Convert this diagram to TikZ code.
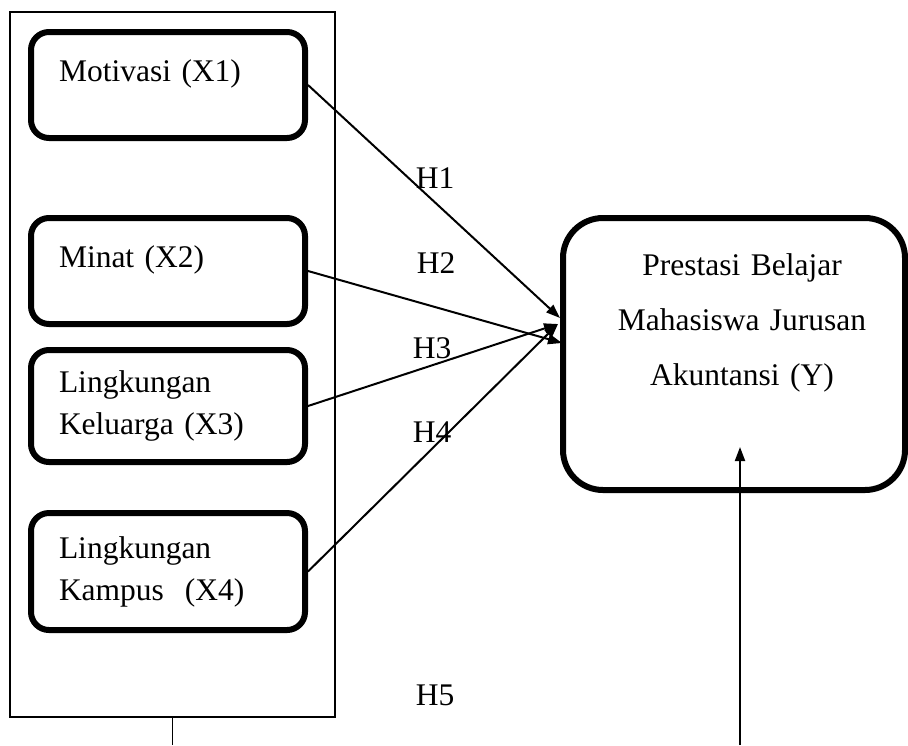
\documentclass[tikz,border=0pt]{standalone}
\usepackage{fontspec}
\setmainfont{Liberation Serif}
\usetikzlibrary{positioning}
\usetikzlibrary{arrows.meta}

\begin{document}
\begin{tikzpicture}[
x=0.5pt, y=-0.5pt,
every node/.style={font=\fontsize{15.75}{21}\selectfont},
varbox/.style={rectangle, draw=black, rounded corners=9pt, line width=3pt, minimum width=137pt, text width=109pt, inner xsep=14pt, align=left},
onebox/.style={varbox, minimum height=53pt, text depth=14pt},
twobox/.style={varbox},
ybox/.style={rectangle, draw=black, rounded corners=20pt, line width=3pt, minimum width=171pt, minimum height=136pt, text width=150pt, align=center, font=\fontsize{15.75}{27.5}\selectfont, text depth=89.5pt},
frame/.style={rectangle, draw=black, line width=0.6pt, minimum width=162.5pt, minimum height=352.5pt},
hyp/.style={inner sep=0pt},
arr/.style={-{Triangle[length=7pt,width=5pt]}, line width=1pt},
]
\useasboundingbox (0,0) rectangle (908,745);

%Nodes
\node[frame]                  (grp)  at (172.5,364.5)  {};
\node[onebox]                 (x1)   at (168,85)       {Motivasi (X1)};
\node[onebox]                 (x2)   [below=37pt of x1] {Minat (X2)};
\node[twobox, minimum height=56pt]   (x3) [below=10pt of x2] {Lingkungan\\Keluarga (X3)};
\node[twobox, minimum height=58.5pt] (x4) [below=22.5pt of x3] {Lingkungan\\Kampus~~(X4)};
\node[ybox]                   (y)    at (734,354)      {\hspace*{8pt}Prestasi Belajar\\\hspace*{8pt}Mahasiswa Jurusan\\\hspace*{8pt}Akuntansi (Y)};

\node[hyp] (h1) at (435,178) {H1};
\node[hyp] (h2) at (436,263) {H2};
\node[hyp] (h3) at (432,348) {H3};
\node[hyp] (h4) at (432,432) {H4};
\node[hyp] (h5) at (435,695) {H5};

\coordinate (ta)   at (560,318);
\coordinate (tb)   at (562,343);
\coordinate (tc)   at (558,324);
\coordinate (yin)  at (740,447);
\coordinate (yout) at (740,745);
\coordinate (gout) at (grp.south |- yout);

%Lines
\draw[arr] (x1.east) -- (ta);
\draw[arr] (x2.east) -- (tb);
\draw[arr] (x3.east) -- (tc);
\draw[arr] (x4.east) -- (tc);
\draw[arr] (yout) -- (yin);
\draw (grp.south) -- (gout);
\end{tikzpicture}
\end{document}
